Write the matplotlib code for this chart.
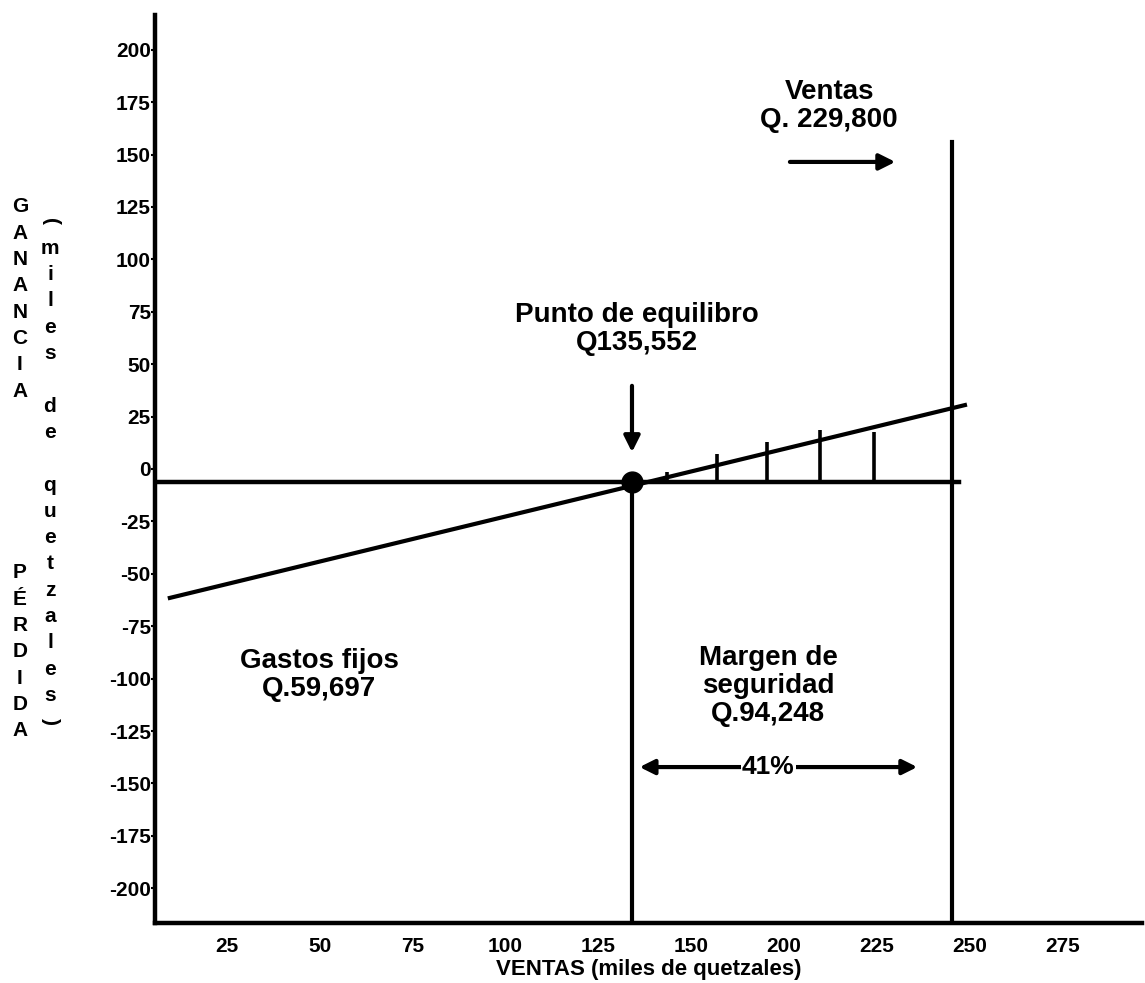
import numpy as np
import matplotlib.pyplot as plt

plt.rcParams['font.family'] = ['Liberation Sans', 'DejaVu Sans']
plt.rcParams['font.weight'] = 'bold'

# ejes (unidades del dibujo, miles de quetzales)
x_ticks = [25, 50, 75, 100, 125, 150, 175, 200, 225, 250]
x_labels = ['25', '50', '75', '100', '125', '150', '200', '225', '250', '275']
y_ticks = list(range(-200, 201, 25))

# recta de ganancia / perdida
linea_x = [9.6, 223.8]
linea_y = [-61.5, 30.5]
base_y = -6            # linea horizontal "0" tal como esta dibujada
equilibrio_x = 134.1   # punto de equilibrio
ventas_x = 220.2       # nivel de ventas
ventas_top = 156
rayas_x = [143.5, 156.9, 170.6, 184.8, 199.3]
rayas_top = [-1.5, 7, 13, 18.6, 17.7]

W, H = 1145, 983
fig = plt.figure(figsize=(W / 100, H / 100), dpi=100)
ax = fig.add_axes([155 / W, 1 - 923 / H, (1142 - 155) / W, (923 - 15) / H])
ax.set_xlim(5.6, 271.5)
ax.set_ylim(-216.6, 216.6)

for s in ['top', 'right']:
    ax.spines[s].set_visible(False)
for s in ['left', 'bottom']:
    ax.spines[s].set_linewidth(3.2)

ax.set_xticks(x_ticks)
ax.set_xticklabels(x_labels, fontsize=15, fontweight='bold')
ax.set_yticks(y_ticks)
ax.set_yticklabels([str(v) for v in y_ticks], fontsize=15, fontweight='bold')
ax.tick_params(axis='x', length=0, pad=10)
ax.tick_params(axis='y', length=3, width=1.5, pad=0)
ax.set_xlabel('VENTAS (miles de quetzales)', fontsize=16, fontweight='bold', labelpad=2)

lw = 3
ax.plot([ax.get_xlim()[0], ventas_x + 2], [base_y, base_y], color='black', lw=3.2)
ax.plot(linea_x, linea_y, color='black', lw=lw)
ax.plot([equilibrio_x, equilibrio_x], [ax.get_ylim()[0], base_y], color='black', lw=lw)
ax.plot([ventas_x, ventas_x], [ax.get_ylim()[0], ventas_top], color='black', lw=lw)
ax.vlines(rayas_x, base_y, rayas_top, color='black', lw=2.6)
ax.plot([equilibrio_x], [base_y], 'o', color='black', ms=15)

ap = dict(arrowstyle='-|>', color='black', lw=3, mutation_scale=24)
ax.annotate('', xy=(equilibrio_x, 6.7), xytext=(equilibrio_x, 41), arrowprops=ap)
ax.annotate('', xy=(205.8, 146.5), xytext=(175.9, 146.5), arrowprops=ap)
ap2 = dict(arrowstyle='<|-|>', color='black', lw=3, mutation_scale=22)
ax.annotate('', xy=(211.7, -142.2), xytext=(135.4, -142.2), arrowprops=ap2)
ax.text(170.8, -142.2, '41%', ha='center', va='center', fontsize=19,
        fontweight='bold', bbox=dict(facecolor='white', edgecolor='none', pad=1))

tk = dict(ha='center', va='center', fontsize=20, fontweight='bold', linespacing=1.1)
ax.text(187.2, 173.2, 'Ventas\nQ. 229,800', **tk)
ax.text(135.4, 66.8, 'Punto de equilibro\nQ135,552', **tk)
ax.text(49.8, -98.3, 'Gastos fijos\nQ.59,697', **tk)
ax.text(170.8, -103.5, 'Margen de\nseguridad\nQ.94,248', **tk)

# textos verticales del eje y
paso = 26.3
for i, c in enumerate('GANANCIA'):
    fig.text(20 / W, 1 - (207 + i * paso) / H, c, ha='center', va='center',
             fontsize=15, fontweight='bold')
for i, c in enumerate('PÉRDIDA'):
    fig.text(20 / W, 1 - (573 + i * paso) / H, c, ha='center', va='center',
             fontsize=15, fontweight='bold')
for i, c in enumerate('(miles de quetzales)'):
    rot = -90 if c in '()' else 0
    fig.text(50 / W, 1 - (222 + i * paso) / H, c, ha='center', va='center',
             fontsize=15, fontweight='bold', rotation=rot)

fig.savefig('out.png', dpi=100)
